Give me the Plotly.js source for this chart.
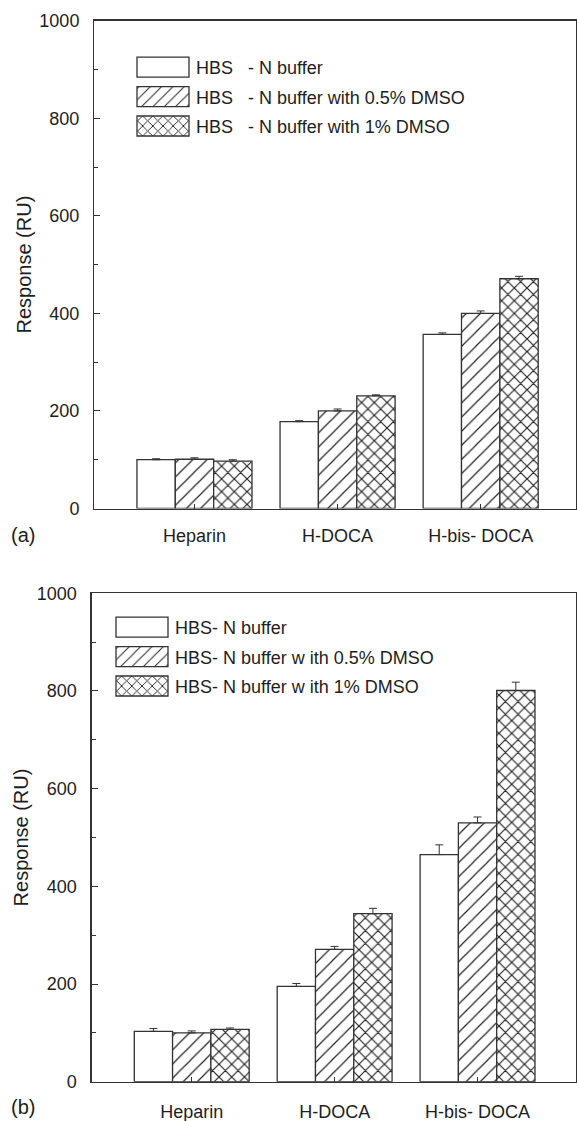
<!DOCTYPE html>
<html><head><meta charset="utf-8">
<script src="https://cdn.plot.ly/plotly-3.0.1.min.js"></script>
<style>html,body{margin:0;padding:0;background:#fff}</style>
</head><body>
<div id="chart" style="width:577px;height:1121px"></div>
<script>
// ---- data ----
const categories = ['Heparin', 'H-DOCA', 'H-bis- DOCA'];
const seriesNamesA = [
  'HBS\u00a0\u00a0\u00a0- N buffer',
  'HBS\u00a0\u00a0\u00a0- N buffer with 0.5% DMSO',
  'HBS\u00a0\u00a0\u00a0- N buffer with 1% DMSO'
];
const seriesNamesB = [
  'HBS- N buffer',
  'HBS- N buffer w ith 0.5% DMSO',
  'HBS- N buffer w ith 1% DMSO'
];
// panel (a)
const hbsA = [100, 178, 357];
const hbsAErr = [2, 2, 3];
const dmso05A = [101, 200, 400];
const dmso05AErr = [3, 4, 5];
const dmso1A = [97, 231, 471];
const dmso1AErr = [3, 2, 5];
// panel (b)
const hbsB = [103, 195, 465];
const hbsBErr = [6, 6, 20];
const dmso05B = [100, 271, 530];
const dmso05BErr = [4, 6, 12];
const dmso1B = [107, 344, 801];
const dmso1BErr = [3, 11, 17];
const noMinus = [0, 0, 0];
const yTickVals = [0, 200, 400, 600, 800, 1000];
const yMinorVals = [100, 300, 500, 700, 900];
const patterns = ['', '/', 'x'];
const panelLabels = ['(a)', '(b)'];
const yTitle = 'Response (RU)';

// ---- styling ----
const INK = '#333333';
const TXT = '#1e1e1e';
const FONT = 'Liberation Sans, Arial, Helvetica, sans-serif';
const patternSolidity = [0.1, 0.12, 0.24];
const patternSize = [10, 10, 9];

function makeTrace(name, vals, errs, idx, xa, ya, leg) {
  return {
    type: 'bar', name: name, x: categories, y: vals,
    xaxis: xa, yaxis: ya, legend: leg, legendgroup: leg + idx,
    marker: {
      color: 'white',
      line: {color: INK, width: 1.3},
      pattern: {shape: patterns[idx], size: patternSize[idx], solidity: patternSolidity[idx],
                fgcolor: '#222222', fgopacity: 1, bgcolor: 'white'}
    },
    error_y: {type: 'data', symmetric: false, array: errs, arrayminus: noMinus,
              color: INK, thickness: 1, width: 4},
    hoverinfo: 'skip'
  };
}

const data = [
  makeTrace(seriesNamesA[0], hbsA, hbsAErr, 0, 'x', 'y', 'legend'),
  makeTrace(seriesNamesA[1], dmso05A, dmso05AErr, 1, 'x', 'y', 'legend'),
  makeTrace(seriesNamesA[2], dmso1A, dmso1AErr, 2, 'x', 'y', 'legend'),
  makeTrace(seriesNamesB[0], hbsB, hbsBErr, 0, 'x2', 'y2', 'legend2'),
  makeTrace(seriesNamesB[1], dmso05B, dmso05BErr, 1, 'x2', 'y2', 'legend2'),
  makeTrace(seriesNamesB[2], dmso1B, dmso1BErr, 2, 'x2', 'y2', 'legend2')
];

const W = 577, H = 1121;
function xAxis(dom, anchor, rng, standoff) {
  return {domain: dom, anchor: anchor, type: 'category', range: rng,
    showline: true, linecolor: INK, linewidth: 1.3, mirror: true,
    showgrid: false, zeroline: false, automargin: false,
    ticks: 'inside', ticklen: 5, tickcolor: INK, tickwidth: 1,
    tickfont: {size: 18, color: TXT, family: FONT}, ticklabelstandoff: standoff, fixedrange: true};
}
function yAxis(dom, anchor) {
  return {domain: dom, anchor: anchor, range: [0, 1000],
    showline: true, linecolor: INK, linewidth: 1.3, mirror: true,
    showgrid: false, zeroline: false, automargin: false,
    tickmode: 'array', tickvals: yTickVals, ticktext: yTickVals.map(String),
    ticks: 'inside', ticklen: 6, tickcolor: INK, tickwidth: 1,
    minor: {tickmode: 'array', tickvals: yMinorVals, ticks: 'inside', ticklen: 4, tickcolor: INK, tickwidth: 1, showgrid: false},
    tickfont: {size: 18, color: TXT, family: FONT}, ticklabelstandoff: 10,
    title: {text: yTitle, font: {size: 20, color: TXT, family: FONT}, standoff: 2}, fixedrange: true};
}
function legendCfg(x, y) {
  return {x: x, y: y, xanchor: 'left', yanchor: 'top', xref: 'paper', yref: 'paper',
    bgcolor: 'rgba(0,0,0,0)', borderwidth: 0, font: {size: 18, color: TXT, family: FONT},
    itemwidth: 56, tracegroupgap: 3, traceorder: 'grouped', itemclick: false, itemdoubleclick: false};
}

const layout = {
  width: W, height: H,
  margin: {l: 0, r: 0, t: 0, b: 0},
  paper_bgcolor: 'white', plot_bgcolor: 'white',
  font: {family: FONT, color: TXT},
  barmode: 'group', bargap: 0.196, bargroupgap: 0,
  xaxis: xAxis([94.3 / W, 576 / W], 'y', [-0.70, 2.666], 11),
  yaxis: yAxis([1 - 508.5 / H, 1 - 20.7 / H], 'x'),
  xaxis2: xAxis([91.7 / W, 576 / W], 'y2', [-0.70, 2.689], 13),
  yaxis2: yAxis([1 - 1081.7 / H, 1 - 593.3 / H], 'x2'),
  legend: legendCfg(130 / W, 1 - 49 / H),
  legend2: legendCfg(109 / W, 1 - 609 / H),
  showlegend: true,
  annotations: [
    {text: panelLabels[0], xref: 'paper', yref: 'paper', x: 23 / W, y: 1 - 535 / H,
     xanchor: 'center', yanchor: 'middle', showarrow: false, font: {size: 20, color: TXT, family: FONT}},
    {text: panelLabels[1], xref: 'paper', yref: 'paper', x: 23 / W, y: 1 - 1107 / H,
     xanchor: 'center', yanchor: 'middle', showarrow: false, font: {size: 20, color: TXT, family: FONT}}
  ]
};

function bigSwatches() {
  document.querySelectorAll('g.legendpoints path').forEach(function (p) {
    p.setAttribute('d', 'M26,10H-26V-10H26Z');
  });
}
const gd = document.getElementById('chart');
Plotly.newPlot(gd, data, layout, {staticPlot: true, displayModeBar: false}).then(function () {
  bigSwatches();
  setTimeout(bigSwatches, 30);
  setTimeout(bigSwatches, 200);
  if (gd.on) gd.on('plotly_afterplot', bigSwatches);
});
</script>
</body></html>
